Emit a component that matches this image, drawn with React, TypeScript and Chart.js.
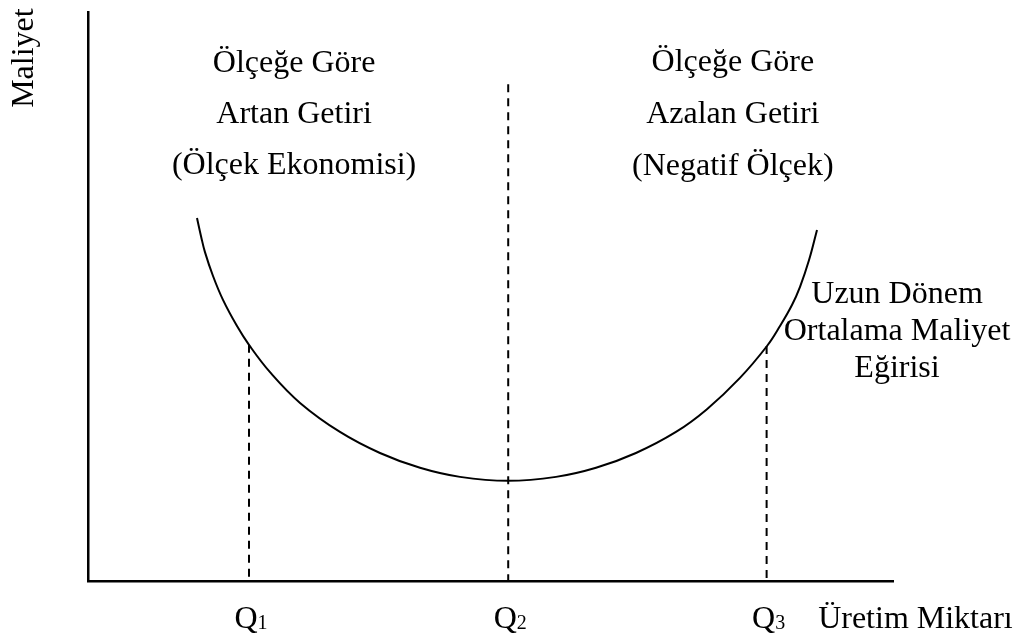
import React, { useEffect, useRef } from "react";
import { Chart, registerables } from "chart.js";

Chart.register(...registerables);

// Long-run average cost curve (quantity vs. cost, arbitrary units 0–100)
const curveQuantity = [13.54, 14.04, 14.53, 15.53, 16.77, 18.51, 20.0, 22.61, 26.34, 31.3, 36.27, 41.24, 46.21, 52.17, 58.14, 63.11, 68.07, 73.04, 76.89, 80.99, 84.35, 85.96, 87.45, 88.45, 89.57, 90.56];
const curveCost = [63.8, 60.6, 57.8, 53.6, 49.4, 44.8, 41.5, 36.7, 31.3, 26.2, 22.5, 19.9, 18.3, 17.6, 18.3, 19.9, 22.5, 26.2, 30.2, 35.7, 41.3, 44.8, 48.5, 51.7, 56.4, 61.7];

// Output levels marked on the quantity axis, with dashed guides up to these costs
const quantityTicks = [20.0, 52.2, 84.3];
const tickSubscripts = ["1", "2", "3"];
const guideTops = [41.5, 87.3, 41.3];

// Text blocks
const leftNote = ["Ölçeğe Göre", "Artan Getiri", "(Ölçek Ekonomisi)"];
const rightNote = ["Ölçeğe Göre", "Azalan Getiri", "(Negatif Ölçek)"];
const curveNote = ["Uzun Dönem", "Ortalama Maliyet", "Eğirisi"];
const xAxisTitle = "Üretim Miktarı";
const yAxisTitle = "Maliyet";

const SERIF = "'Liberation Serif', 'Times New Roman', serif";
const TEXT_SIZE = 32;
const SUB_SIZE = 20;

const textPlugin = {
  id: "costTexts",
  afterDraw(chart: any) {
    const { ctx, chartArea, scales } = chart;
    const x = scales.x;
    const y = scales.y;
    ctx.save();
    ctx.fillStyle = "#000";
    ctx.textBaseline = "alphabetic";
    ctx.font = `${TEXT_SIZE}px ${SERIF}`;
    ctx.textAlign = "center";

    const block = (lines: string[], cx: number, baselines: number[]) => {
      lines.forEach((t, i) => {
        ctx.fillText(t, x.getPixelForValue(cx), y.getPixelForValue(baselines[i]));
      });
    };
    block(leftNote, 25.6, [89.5, 80.5, 71.5]);
    block(rightNote, 80.1, [89.6, 80.5, 71.3]);
    block(curveNote, 100.5, [48.9, 42.4, 35.9]);

    // Q labels with subscripts under the axis
    const labelBase = chartArea.bottom + 47;
    quantityTicks.forEach((q, i) => {
      const px = x.getPixelForValue(q);
      ctx.font = `${TEXT_SIZE}px ${SERIF}`;
      const wQ = ctx.measureText("Q").width;
      ctx.font = `${SUB_SIZE}px ${SERIF}`;
      const wS = ctx.measureText(tickSubscripts[i]).width;
      const start = px - (wQ + wS) / 2 + 2;
      ctx.textAlign = "left";
      ctx.font = `${TEXT_SIZE}px ${SERIF}`;
      ctx.fillText("Q", start, labelBase);
      ctx.font = `${SUB_SIZE}px ${SERIF}`;
      ctx.fillText(tickSubscripts[i], start + wQ, labelBase + 1);
    });

    ctx.font = `${TEXT_SIZE}px ${SERIF}`;
    ctx.textAlign = "left";
    ctx.fillText(xAxisTitle, x.getPixelForValue(90.7), labelBase);

    // Rotated cost title
    ctx.save();
    ctx.translate(chartArea.left - 55, y.getPixelForValue(91.9));
    ctx.rotate(-Math.PI / 2);
    ctx.textAlign = "center";
    ctx.fillText(yAxisTitle, 0, 0);
    ctx.restore();

    ctx.restore();
  },
};

export default function App() {
  const canvasRef = useRef<HTMLCanvasElement | null>(null);

  useEffect(() => {
    if (!canvasRef.current) return;
    const curve = curveQuantity.map((q, i) => ({ x: q, y: curveCost[i] }));
    const guides = quantityTicks.map((q, i) => ({
      data: [
        { x: q, y: guideTops[i] },
        { x: q, y: 0 },
      ],
      borderColor: "#000",
      borderWidth: 2,
      borderDash: [8, 6],
      pointRadius: 0,
      tension: 0,
    }));

    const axisOpts = {
      type: "linear" as const,
      min: 0,
      max: 100,
      grid: { display: false },
      ticks: { display: false },
      border: { display: true, color: "#000", width: 2.5 },
    };

    const chart = new Chart(canvasRef.current, {
      type: "line",
      data: {
        datasets: [
          {
            data: curve,
            borderColor: "#000",
            borderWidth: 2,
            pointRadius: 0,
            tension: 0.4,
          },
          ...guides,
        ] as any,
      },
      options: {
        responsive: false,
        maintainAspectRatio: false,
        animation: false,
        layout: { padding: { left: 88, top: 12, right: 138, bottom: 61 } },
        plugins: { legend: { display: false }, tooltip: { enabled: false } },
        scales: {
          x: { ...axisOpts, position: "bottom", afterFit: (s: any) => { s.height = 0; } },
          y: { ...axisOpts, position: "left", afterFit: (s: any) => { s.width = 0; } },
        } as any,
      },
      plugins: [textPlugin],
    });
    return () => chart.destroy();
  }, []);

  return (
    <div style={{ position: "absolute", left: 0, top: 0, width: 1031, height: 642, background: "#fff" }}>
      <canvas ref={canvasRef} width={1031} height={642} style={{ display: "block" }} />
    </div>
  );
}
